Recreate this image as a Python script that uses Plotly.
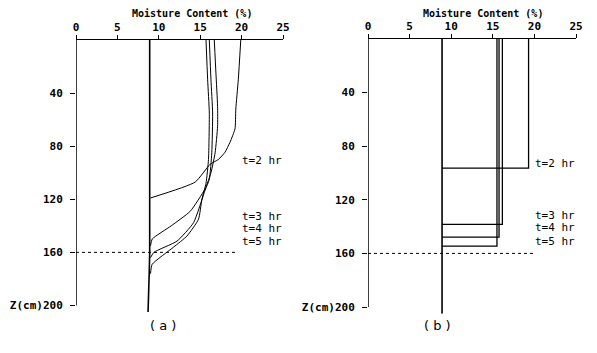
import plotly.graph_objects as go

# ---------------- data ----------------
# panel (a): simulated profiles (moisture %, depth cm)
init_x = [8.9, 8.9, 8.7]
init_z = [0, 160, 205]

t2_x = [19.9, 19.6, 19.3, 19.2, 18.6, 18.0, 17.2, 16.2, 14.4, 9.0]
t2_z = [0, 30, 52, 67, 77, 84.5, 90, 93.6, 107, 119]

t3_x = [16.7, 16.9, 17.1, 17.1, 16.8, 16.3, 15.6, 13.8, 11.5, 9.2, 9.0]
t3_z = [0, 25, 50, 65, 85, 100, 112, 129, 140, 150, 155]

t4_x = [16.1, 16.3, 16.5, 16.4, 16.1, 15.6, 14.2, 12.2, 9.4, 9.0]
t4_z = [0, 30, 55, 85, 105, 113, 137.6, 151.5, 160, 164]

t5_x = [15.7, 15.9, 16.1, 16.0, 15.7, 15.2, 14.8, 13.4, 11.8, 9.2, 9.0]
t5_z = [0, 30, 55, 90, 108, 120, 135, 147.7, 156, 169, 176]

# panel (b): sharp-front profiles
b_init_x = [8.9, 8.9]
b_init_z = [0, 205]
b_theta = [19.3, 16.15, 15.75, 15.5]      # t=2,3,4,5 hr
b_front = [96.4, 138.3, 147.8, 154.5]     # wetting front depth (cm)

labels = ["t=2 hr", "t=3 hr", "t=4 hr", "t=5 hr"]
label_z_a = [91, 133, 142, 152]
label_z_b = [93, 132, 141, 151]

x_title = "Moisture Content (%)"
x_ticks = [0, 5, 10, 15, 20, 25]
y_ticks = [40, 80, 120, 160, 200]
y_ticktext = ["40", "80", "120", "160", "Z(cm)200"]
dotted_z = 160

# ---------------- figure ----------------
fig = go.Figure()
black = "black"
OFF = 8  # page body margin offset (px)
W, H = 597, 353

def dom_x(p0, p1):
    return [(p0 - OFF) / W, (p1 - OFF) / W]

def dom_y(top, bottom):
    return [1 - (bottom - OFF) / H, 1 - (top - OFF) / H]

def add_line(x, z, xa, ya, w=1.0):
    fig.add_trace(go.Scatter(x=x, y=z, mode="lines", xaxis=xa, yaxis=ya,
                             line=dict(color=black, width=w, shape="spline", smoothing=0.5),
                             showlegend=False, hoverinfo="skip"))

# panel a
add_line(init_x, init_z, "x", "y", 1.6)
for xs, zs in [(t2_x, t2_z), (t3_x, t3_z), (t4_x, t4_z), (t5_x, t5_z)]:
    add_line(xs, zs, "x", "y", 1.0)

# panel b
fig.add_trace(go.Scatter(x=b_init_x, y=b_init_z, mode="lines", xaxis="x2", yaxis="y2",
                         line=dict(color=black, width=1.6), showlegend=False, hoverinfo="skip"))
for th, zf in zip(b_theta, b_front):
    fig.add_trace(go.Scatter(x=[th, th, b_init_x[0]], y=[0, zf, zf], mode="lines",
                             xaxis="x2", yaxis="y2", line=dict(color=black, width=1.3),
                             showlegend=False, hoverinfo="skip"))

# dotted lines at 160
fig.add_trace(go.Scatter(x=[0, 19.5], y=[dotted_z, dotted_z], mode="lines", xaxis="x", yaxis="y",
                         line=dict(color=black, width=1, dash="dot"), showlegend=False, hoverinfo="skip"))
fig.add_trace(go.Scatter(x=[0, 20.2], y=[dotted_z, dotted_z], mode="lines", xaxis="x2", yaxis="y2",
                         line=dict(color=black, width=1, dash="dot"), showlegend=False, hoverinfo="skip"))

# y axis lines (only down to 200)
fig.add_shape(type="line", xref="x", yref="y", x0=0, x1=0, y0=0, y1=200,
              line=dict(color=black, width=1.5))
fig.add_shape(type="line", xref="x2", yref="y2", x0=0, x1=0, y0=0, y1=200,
              line=dict(color=black, width=1.5))

tickfont = dict(family="DejaVu Sans Mono", size=11, color=black, weight="bold")
title_font = dict(family="DejaVu Sans Mono", size=10, color=black, weight="bold")

xcommon = dict(range=[0, 25], side="top", showline=True, linecolor=black, linewidth=1.2,
               ticks="outside", ticklen=4, tickcolor=black, tickvals=x_ticks,
               tickfont=tickfont, showgrid=False, zeroline=False, automargin=False)
ycommon = dict(range=[205, 0], showline=False, ticks="outside", ticklen=5, tickcolor=black,
               tickvals=y_ticks, ticktext=y_ticktext, tickfont=tickfont, ticklabelstandoff=5,
               showgrid=False, zeroline=False, automargin=False)

fig.update_layout(
    width=W, height=H,
    margin=dict(l=0, r=0, t=0, b=0, autoexpand=False),
    paper_bgcolor="white", plot_bgcolor="white",
    xaxis=dict(domain=dom_x(76, 283), anchor="y", **xcommon),
    yaxis=dict(domain=dom_y(40, 312.1), anchor="x", **ycommon),
    xaxis2=dict(domain=dom_x(368, 576), anchor="y2", **xcommon),
    yaxis2=dict(domain=dom_y(39, 313.7), anchor="x2", **ycommon),
)

# axis titles as annotations
title_y = 1 - (14 - OFF) / H
fig.add_annotation(x=14.0, y=title_y, xref="x", yref="paper", text=x_title,
                   showarrow=False, xanchor="center", yanchor="middle", font=title_font)
fig.add_annotation(x=13.8, y=title_y, xref="x2", yref="paper", text=x_title,
                   showarrow=False, xanchor="center", yanchor="middle", font=title_font)

ann_font = dict(family="DejaVu Sans Mono", size=11, color=black)
for lab, za, zb in zip(labels, label_z_a, label_z_b):
    fig.add_annotation(x=19.8, y=za, xref="x", yref="y", text=lab, showarrow=False,
                       xanchor="left", yanchor="middle", font=ann_font)
    fig.add_annotation(x=19.8, y=zb, xref="x2", yref="y2", text=lab, showarrow=False,
                       xanchor="left", yanchor="middle", font=ann_font)

fig.add_annotation(x=(163 - OFF) / W, y=1 - (325 - OFF) / H, xref="paper", yref="paper",
                   text="( a )", showarrow=False, xanchor="center", yanchor="middle",
                   font=dict(family="DejaVu Sans", size=13, color=black))
fig.add_annotation(x=(437 - OFF) / W, y=1 - (325 - OFF) / H, xref="paper", yref="paper",
                   text="( b )", showarrow=False, xanchor="center", yanchor="middle",
                   font=dict(family="DejaVu Sans", size=13, color=black))

fig.write_html("out.html")
